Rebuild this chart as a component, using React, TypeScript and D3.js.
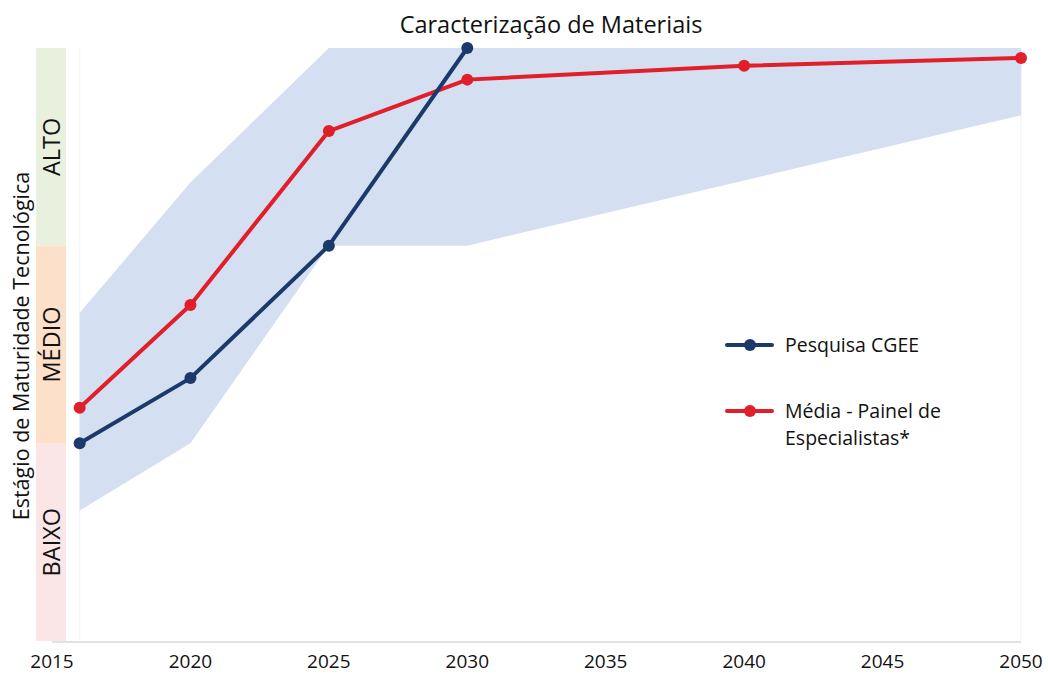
import React from "react";
import * as d3 from "d3";

const years = [2016, 2020, 2025, 2030, 2040, 2050];
const cgeeYears = [2016, 2020, 2025, 2030];
const cgeeValues = [1.0, 1.33, 2.0, 3.0];
const panelValues = [1.18, 1.7, 2.58, 2.84, 2.91, 2.95];
const rangeUpper = [1.66, 2.32, 3.0, 3.0, 3.0, 3.0];
const rangeLower = [0.66, 1.0, 2.0, 2.0, 2.33, 2.66];
const xTicks = [2015, 2020, 2025, 2030, 2035, 2040, 2045, 2050];
const levels = [
  { label: "BAIXO", from: 0, to: 1, color: "#fbe6e7" },
  { label: "MÉDIO", from: 1, to: 2, color: "#fde0c9" },
  { label: "ALTO", from: 2, to: 3, color: "#e9f0dd" },
];
const seriesNames = ["Pesquisa CGEE", "Média - Painel de Especialistas*"];

const BLUE = "#1b3a6b";
const RED = "#e01f2a";
const FONT = "'Open Sans', Lato, sans-serif";

export default function App() {
  const W = 1048, H = 674;
  const x = d3.scaleLinear().domain([2015, 2050]).range([52, 1021]);
  const y = d3.scaleLinear().domain([0, 3]).range([641, 48]);

  const area = d3
    .area<number>()
    .x((_, i) => x(years[i]))
    .y0((_, i) => y(rangeLower[i]))
    .y1((_, i) => y(rangeUpper[i]));

  const line = d3
    .line<[number, number]>()
    .x((d) => x(d[0]))
    .y((d) => y(d[1]));

  const cgee: [number, number][] = cgeeYears.map((yr, i) => [yr, cgeeValues[i]]);
  const panel: [number, number][] = years.map((yr, i) => [yr, panelValues[i]]);

  return (
    <svg width={W} height={H} style={{ position: "absolute", left: 0, top: 0 }} fontFamily={FONT}>
      <rect width={W} height={H} fill="#fff" />
      {levels.map((l) => (
        <g key={l.label}>
          <rect x={36} y={y(l.to)} width={30} height={y(l.from) - y(l.to)} fill={l.color} />
          <text
            transform={`translate(${60},${(y(l.from) + y(l.to)) / 2}) rotate(-90)`}
            textAnchor="middle"
            fontSize={23.5}
            fill="#111"
          >
            {l.label}
          </text>
        </g>
      ))}
      <text
        transform={`translate(${29},${346}) rotate(-90)`}
        textAnchor="middle"
        fontSize={21.5}
        fill="#111"
      >
        Estágio de Maturidade Tecnológica
      </text>
      <text x={551} y={33} textAnchor="middle" fontSize={23.5} fill="#111">
        Caracterização de Materiais
      </text>

      <line x1={x(2016)} x2={x(2016)} y1={y(3)} y2={y(0)} stroke="#f2f2f2" strokeWidth={1} />
      <line x1={x(2050)} x2={x(2050)} y1={y(3)} y2={y(0)} stroke="#f2f2f2" strokeWidth={1} />
      <path d={area(years) || ""} fill="#d4e0f1" />
      <line x1={x(2015)} x2={x(2050)} y1={642} y2={642} stroke="#d9d9d9" strokeWidth={1.5} />
      {xTicks.map((t) => (
        <text key={t} x={x(t)} y={668} textAnchor="middle" fontSize={19} fill="#111">
          {t}
        </text>
      ))}

      <path d={line(panel) || ""} fill="none" stroke={RED} strokeWidth={4} strokeLinejoin="round" />
      <path d={line(cgee) || ""} fill="none" stroke={BLUE} strokeWidth={4} strokeLinejoin="round" />
      {panel.map((d, i) => (
        <circle key={"p" + i} cx={x(d[0])} cy={y(d[1])} r={6} fill={RED} />
      ))}
      {cgee.map((d, i) => (
        <circle key={"c" + i} cx={x(d[0])} cy={y(d[1])} r={6} fill={BLUE} />
      ))}

      <g>
        <line x1={727} x2={772} y1={345} y2={345} stroke={BLUE} strokeWidth={4} strokeLinecap="round" />
        <circle cx={750} cy={345} r={6} fill={BLUE} />
        <text x={785} y={352} fontSize={19.5} fill="#111">{seriesNames[0]}</text>
        <line x1={727} x2={772} y1={411} y2={411} stroke={RED} strokeWidth={4} strokeLinecap="round" />
        <circle cx={750} cy={411} r={6} fill={RED} />
        <text x={785} y={418} fontSize={19.5} fill="#111">Média - Painel de</text>
        <text x={785} y={445} fontSize={19.5} fill="#111">Especialistas*</text>
      </g>
    </svg>
  );
}
